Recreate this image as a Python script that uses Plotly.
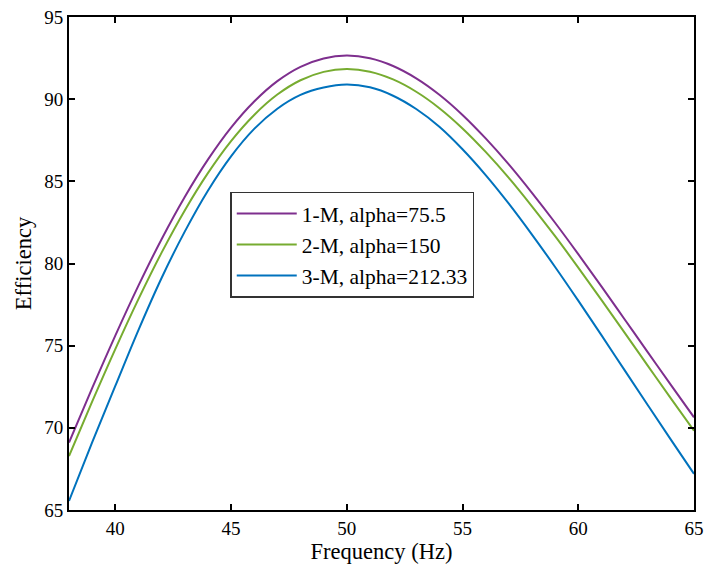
import plotly.graph_objects as go

freq = [38, 39, 40, 41, 42, 43, 44, 45, 46, 47, 48, 49, 50, 51, 52, 53, 54, 55,
        56, 57, 58, 59, 60, 61, 62, 63, 64, 65]

eff_1m = [69.10, 72.41, 75.61, 78.65, 81.48, 84.05, 86.32, 88.27, 89.86, 91.10, 91.97,
          92.48, 92.65, 92.49, 92.02, 91.27, 90.27, 89.04, 87.61, 86.03, 84.30, 82.48,
          80.57, 78.61, 76.61, 74.61, 72.61, 70.64]
eff_2m = [68.28, 71.59, 74.79, 77.83, 80.66, 83.23, 85.50, 87.45, 89.04, 90.28, 91.15,
          91.66, 91.83, 91.67, 91.20, 90.45, 89.45, 88.22, 86.79, 85.21, 83.48, 81.66,
          79.75, 77.79, 75.79, 73.79, 71.79, 69.82]
eff_3m = [65.55, 69.11, 72.55, 75.95, 79.12, 81.94, 84.43, 86.52, 88.19, 89.42, 90.26,
          90.71, 90.89, 90.72, 90.21, 89.40, 88.32, 86.95, 85.38, 83.64, 81.76, 79.79,
          77.74, 75.64, 73.51, 71.39, 69.28, 67.20]

names = ["1-M, alpha=75.5", "2-M, alpha=150", "3-M, alpha=212.33"]
colors = ["#7E2F8E", "#77AC30", "#0072BD"]
series = [eff_1m, eff_2m, eff_3m]

x_ticks = [40, 45, 50, 55, 60, 65]
y_ticks = [65, 70, 75, 80, 85, 90, 95]

FONT = "Liberation Serif, Times New Roman, serif"

fig = go.Figure()
for name, col, ys in zip(names, colors, series):
    fig.add_trace(go.Scatter(x=freq, y=ys, mode="lines", name=name,
                             line=dict(color=col, width=2, shape="spline", smoothing=1.0)))

axis_common = dict(
    showline=True, linecolor="black", linewidth=2, mirror="ticks",
    ticks="inside", ticklen=6, tickwidth=1.5, tickcolor="black",
    showgrid=False, zeroline=False, automargin=False,
    tickfont=dict(family=FONT, size=19, color="black"),
)

fig.update_xaxes(range=[38, 65], tickvals=x_ticks,
                 title=dict(text="Frequency (Hz)", font=dict(family=FONT, size=22.5, color="black"),
                            standoff=4),
                 **axis_common)
fig.update_yaxes(range=[65, 95], tickvals=y_ticks,
                 title=dict(text="Efficiency", font=dict(family=FONT, size=22.5, color="black"),
                            standoff=6),
                 **axis_common)

fig.update_layout(
    width=704, height=569,
    margin=dict(l=69, r=10, t=17, b=59),
    paper_bgcolor="white", plot_bgcolor="white",
    showlegend=True,
    legend=dict(x=0.258, y=0.646, xanchor="left", yanchor="top",
                bgcolor="white", bordercolor="#333333", borderwidth=1.5,
                font=dict(family=FONT, size=21.5, color="black"),
                tracegroupgap=0, itemwidth=60),
)

fig.write_html("out.html")
